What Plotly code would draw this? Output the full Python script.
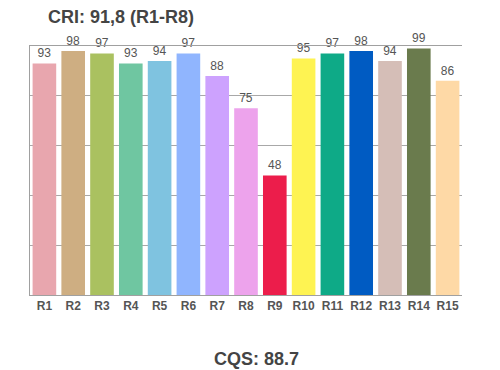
import plotly.graph_objects as go

categories = ["R1","R2","R3","R4","R5","R6","R7","R8","R9","R10","R11","R12","R13","R14","R15"]
values = [93, 98, 97, 93, 94, 97, 88, 75, 48, 95, 97, 98, 94, 99, 86]
colors = ["#E8A6AE","#CEAE82","#AAC160","#6FC6A1","#7FC3E0","#90B5FE","#CDA2FE","#EDA3EC",
          "#EC1D4B","#FEF352","#0EAA87","#005BC2","#D5BEB7","#6A7B4D","#FED9A6"]
title_text = "CRI: 91,8 (R1-R8)"
bottom_text = "CQS: 88.7"

FONT = "Liberation Sans, Arial, Helvetica"

fig = go.Figure(go.Bar(
    x=categories, y=values, marker_color=colors, marker_line_width=0,
    text=[str(v) for v in values], textposition="outside",
    textfont=dict(family=FONT, size=12, color="#555555"),
    cliponaxis=False,
))
fig.update_layout(
    width=500, height=370,
    margin=dict(l=30, r=38, t=46, b=75),
    paper_bgcolor="white", plot_bgcolor="white",
    bargap=0.18,
    showlegend=False,
    font=dict(family=FONT, color="#555555"),
    annotations=[
        dict(text="<b>" + title_text + "</b>", xref="paper", yref="paper", x=(46-30)/432, y=1,
             xanchor="left", yanchor="middle", showarrow=False, yshift=29,
             font=dict(size=18, color="#444444", family=FONT)),
        dict(text="<b>" + bottom_text + "</b>", xref="paper", yref="paper", x=(256-30)/432, y=0,
             xanchor="center", yanchor="middle", showarrow=False, yshift=-64,
             font=dict(size=18, color="#444444", family=FONT)),
    ],
)
fig.update_yaxes(range=[0, 100], dtick=20, showticklabels=False, showgrid=True,
                 gridcolor="#A8A8A8", gridwidth=1, showline=True, linecolor="#A0A0A0",
                 linewidth=1, zeroline=False, ticks="", mirror=False)
fig.update_xaxes(showline=True, linecolor="#A0A0A0", linewidth=1, ticks="", mirror=True,
                 tickfont=dict(family=FONT, size=12, color="#555555", weight="bold"))
fig.write_html("out.html", config={"displayModeBar": False},
               post_script="document.body.style.margin='0px';document.body.style.overflow='hidden';")
